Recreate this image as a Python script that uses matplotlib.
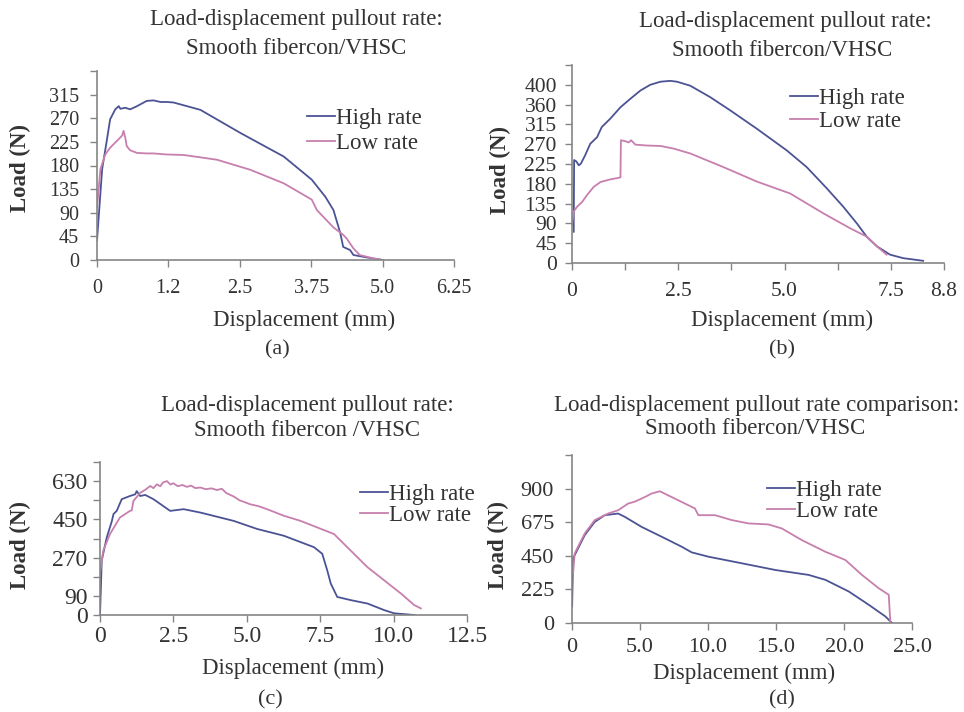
"""Load-displacement pullout curves, four panels (a)-(d)."""

import matplotlib
matplotlib.use("Agg")
import matplotlib.pyplot as plt

plt.rcParams["font.family"] = ["Liberation Serif", "DejaVu Serif"]

HIGH_COLOR = "#4b5394"
LOW_COLOR = "#c77fae"
AXIS_COLOR = "#858585"
TEXT_COLOR = "#333333"

# ---- panel (a) ----
a_high_x = [0, 0.09, 0.175, 0.23, 0.32, 0.38, 0.41, 0.495, 0.58, 0.70, 0.87, 0.99, 1.11,
            1.22, 1.34, 1.81, 2.51, 3.27, 3.76, 4.0, 4.14, 4.26, 4.31, 4.43, 4.49, 4.72, 5.0]
a_high_y = [37, 173, 230, 268, 287, 293, 288, 290, 287, 293, 303, 304, 301,
            301, 300, 286, 242, 197, 153, 120, 95, 51, 25, 19, 9.5, 5, 0]
a_low_x = [0, 0.06, 0.145, 0.23, 0.35, 0.44, 0.465, 0.495, 0.52, 0.58, 0.70, 0.87, 0.99,
           1.22, 1.52, 2.10, 2.68, 3.27, 3.76, 3.85, 4.14, 4.31, 4.37, 4.49, 4.6, 4.84, 5.0]
a_low_y = [100, 173, 201, 214, 227, 237, 246, 233, 217, 209, 204, 203, 203,
           201, 200, 191, 172, 146, 115, 95, 62, 48, 41, 22, 9.5, 3, 0]
a_xticks = [0, 1.25, 2.5, 3.75, 5.0, 6.25]
a_xlabels = ["0", "1.2", "2.5", "3.75", "5.0", "6.25"]
a_yticks = [0, 45, 90, 135, 180, 225, 270, 315, 360]
a_ylabels = ["0", "45", "90", "135", "180", "225", "270", "315", ""]

# ---- panel (b) ----
b_high_x = [0.04, 0.05, 0.10, 0.16, 0.21, 0.31, 0.43, 0.59, 0.70, 0.90, 1.14, 1.37, 1.61,
            1.84, 2.08, 2.31, 2.47, 2.78, 3.25, 3.72, 4.35, 5.05, 5.52, 5.99, 6.38,
            6.70, 6.93, 7.17, 7.48, 7.79, 8.26]
b_high_y = [71, 234, 231, 222, 226, 245, 271, 286, 309, 328, 354, 373, 392,
            405, 412, 414, 412, 403, 377, 347, 305, 256, 218, 170, 128,
            90, 60, 38, 19, 11, 5]
b_low_x = [0, 0.04, 0.12, 0.24, 0.35, 0.51, 0.67, 0.90, 1.12, 1.14, 1.15, 1.25, 1.33,
           1.39, 1.49, 1.76, 2.08, 2.39, 2.78, 3.56, 4.35, 5.13, 5.91, 6.54, 6.93,
           7.17, 7.40]
b_low_y = [87, 117, 128, 139, 154, 173, 184, 190, 194, 195, 279, 277, 274,
           279, 269, 267, 266, 260, 249, 218, 185, 158, 113, 79, 60,
           38, 19]
b_xticks = [0, 1.25, 2.5, 3.75, 5.0, 6.25, 7.5, 8.75]
b_xlabels = ["0", "", "2.5", "", "5.0", "", "7.5", "8.8"]
b_yticks = [0, 45, 90, 135, 180, 225, 270, 315, 360, 405, 450]
b_ylabels = ["0", "45", "90", "135", "180", "225", "270", "315", "360", "400", ""]

# ---- panel (c) ----
c_high_x = [0, 0.06, 0.23, 0.40, 0.46, 0.57, 0.74, 1.02, 1.20, 1.25, 1.37, 1.54, 1.82,
            2.39, 2.85, 3.42, 4.55, 5.35, 6.26, 7.29, 7.57, 7.74, 7.86, 8.08, 8.54,
            9.11, 9.68, 10.02, 10.7]
c_high_y = [0, 257, 365, 440, 475, 490, 545, 560, 568, 583, 560, 565, 545,
            490, 498, 482, 443, 405, 373, 319, 288, 210, 148, 85, 70,
            54, 23, 8, 0]
c_low_x = [0, 0.11, 0.34, 0.68, 1.02, 1.08, 1.14, 1.37, 1.55, 1.71, 1.82, 1.94, 2.05,
           2.15, 2.28, 2.40, 2.50, 2.65, 2.80, 2.96, 3.10, 3.25, 3.42, 3.60, 3.80,
           3.98, 4.15, 4.30, 4.55, 4.75, 5.12, 5.40, 5.69, 6.26, 6.83, 7.40, 7.97,
           8.54, 9.11, 9.68, 10.25, 10.70, 10.93]
c_low_y = [194, 303, 381, 459, 490, 492, 537, 575, 590, 607, 597, 615, 606,
           624, 630, 614, 620, 606, 612, 603, 609, 597, 600, 592, 596,
           588, 594, 574, 558, 540, 521, 512, 498, 467, 443, 412, 381,
           303, 225, 163, 101, 47, 31]
c_xticks = [0, 2.5, 5.0, 7.5, 10.0, 12.5]
c_xlabels = ["0", "2.5", "5.0", "7.5", "10.0", "12.5"]
c_yticks = [0, 90, 180, 270, 360, 450, 540, 630, 720]
c_ylabels = ["0", "90", "", "270", "", "450", "", "630", ""]

# ---- panel (d) ----
d_high_x = [0.01, 0.08, 0.2, 0.94, 1.67, 2.41, 3.39, 3.88, 5.11, 6.83, 8.06, 8.80,
            10.03, 12.48, 14.95, 17.4, 18.63, 20.35, 21.82, 23.04, 23.53]
d_high_y = [111, 430, 455, 589, 677, 722, 733, 711, 644, 567, 511, 473,
            444, 400, 355, 322, 289, 211, 122, 44, 0]
d_low_x = [0.08, 0.2, 0.94, 1.67, 2.65, 3.39, 4.13, 4.6, 5.11, 5.5, 5.85, 6.46,
           7.07, 7.81, 8.55, 9.04, 9.29, 10.52, 11.75, 12.97, 14.45, 15.43,
           16.9, 18.63, 20.1, 21.32, 22.55, 23.29, 23.41]
d_low_y = [333, 467, 600, 689, 733, 755, 800, 812, 833, 850, 867, 882,
           855, 822, 789, 767, 722, 722, 689, 667, 660, 633,
           555, 477, 422, 322, 233, 189, 0]
d_xticks = [0, 5.0, 10.0, 15.0, 20.0, 25.0]
d_xlabels = ["0", "5.0", "10.0", "15.0", "20.0", "25.0"]
d_yticks = [0, 225, 450, 675, 900, 1125]
d_ylabels = ["0", "225", "450", "675", "900", ""]

W, H = 964, 712


def rect(left, top, right, bottom):
    """Pixel box -> figure fraction rect."""
    return [left / W, 1 - bottom / H, (right - left) / W, (bottom - top) / H]


def ftext(fig, x, y, s, size, **kw):
    fig.text(x / W, 1 - y / H, s, fontsize=size, color=TEXT_COLOR,
             ha=kw.pop("ha", "center"), va=kw.pop("va", "center"), **kw)


def draw_panel(fig, box, hx, hy, lx, ly, xticks, xlabels, yticks, ylabels,
               tick_size, xpad, ypad, legend_at, legend_sp):
    ax = fig.add_axes(rect(*box))
    ax.plot(hx, hy, color=HIGH_COLOR, lw=1.3, label="High rate")
    ax.plot(lx, ly, color=LOW_COLOR, lw=1.3, label="Low rate")
    ax.set_xlim(xticks[0], xticks[-1])
    ax.set_ylim(yticks[0], yticks[-1])
    ax.set_xticks(xticks, xlabels)
    ax.set_yticks(yticks, ylabels)
    for side in ("top", "right"):
        ax.spines[side].set_visible(False)
    for side in ("left", "bottom"):
        ax.spines[side].set_color(AXIS_COLOR)
        ax.spines[side].set_linewidth(1.2)
    ax.tick_params(direction="out", length=5, width=1, color=AXIS_COLOR,
                   labelcolor=TEXT_COLOR, labelsize=tick_size)
    ax.tick_params(axis="x", pad=xpad)
    ax.tick_params(axis="y", pad=ypad)
    ax.legend(loc="upper left", bbox_to_anchor=(legend_at[0] / W, 1 - legend_at[1] / H),
              bbox_transform=fig.transFigure, frameon=False, fontsize=16.5,
              handlelength=1.2, handletextpad=0.05, labelspacing=legend_sp,
              borderpad=0, borderaxespad=0, labelcolor=TEXT_COLOR)
    return ax


fig = plt.figure(figsize=(W / 100, H / 100), dpi=100)

draw_panel(fig, (97, 71, 454, 260), a_high_x, a_high_y, a_low_x, a_low_y,
           a_xticks, a_xlabels, a_yticks, a_ylabels, 14.5, 9, 8, (307, 108), 0.17)
draw_panel(fig, (572, 65, 944, 263), b_high_x, b_high_y, b_low_x, b_low_y,
           b_xticks, b_xlabels, b_yticks, b_ylabels, 15.5, 9, 6, (790, 88), 0.1)
draw_panel(fig, (100, 462, 467, 615), c_high_x, c_high_y, c_low_x, c_low_y,
           c_xticks, c_xlabels, c_yticks, c_ylabels, 17, 3, 4, (360, 484), 0.0)
draw_panel(fig, (572, 455, 912, 623), d_high_x, d_high_y, d_low_x, d_low_y,
           d_xticks, d_xlabels, d_yticks, d_ylabels, 16, 6, 8, (767, 480), 0.0)

# titles
ftext(fig, 296, 20, "Load-displacement pullout rate:", 16.5)
ftext(fig, 296, 48, "Smooth fibercon/VHSC", 16.5)
ftext(fig, 785, 22, "Load-displacement pullout rate:", 16.5)
ftext(fig, 782, 50, "Smooth fibercon/VHSC", 16.5)
ftext(fig, 307, 405, "Load-displacement pullout rate:", 16.5)
ftext(fig, 307, 430, "Smooth fibercon /VHSC", 16.5)
ftext(fig, 757, 405, "Load-displacement pullout rate comparison:", 16.5)
ftext(fig, 755, 428, "Smooth fibercon/VHSC", 16.5)

# axis labels
ftext(fig, 304, 320, "Displacement (mm)", 16.5)
ftext(fig, 782, 320, "Displacement (mm)", 16.5)
ftext(fig, 293, 668, "Displacement (mm)", 16.5)
ftext(fig, 744, 673, "Displacement (mm)", 16.5)
for x, y in [(20, 168), (500, 170), (20, 545), (498, 545)]:
    ftext(fig, x, y, "Load (N)", 16.5, rotation=90, fontweight="bold")

# panel letters
ftext(fig, 277, 350, "(a)", 16)
ftext(fig, 782, 350, "(b)", 16)
ftext(fig, 270, 700, "(c)", 16)
ftext(fig, 782, 700, "(d)", 16)

fig.savefig("out.png", dpi=100)
